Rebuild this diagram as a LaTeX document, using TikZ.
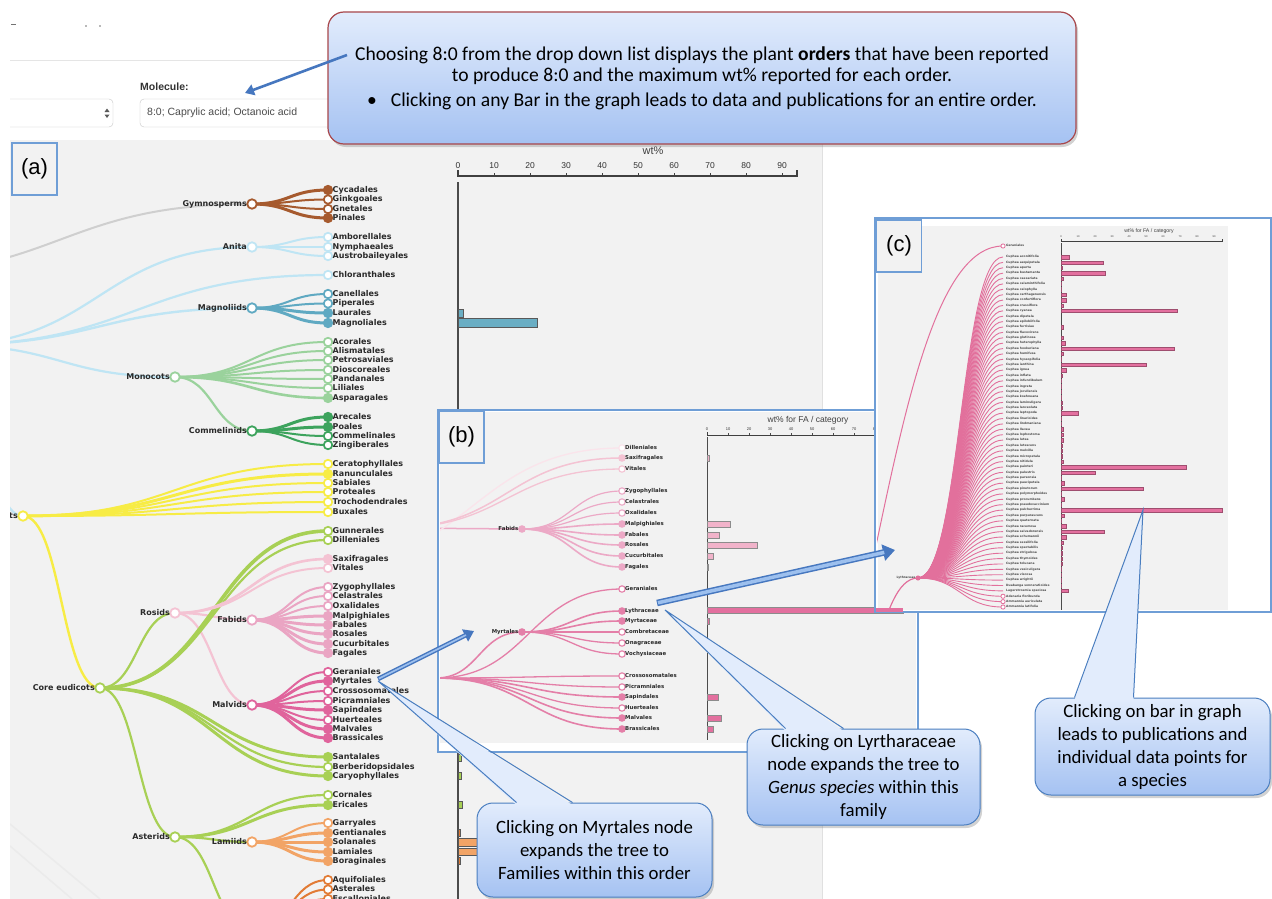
\documentclass[tikz,border=0pt]{standalone}
\usepackage{fontspec}
\setmainfont{Carlito}
\newfontfamily\dv{DejaVu Sans}
\newfontfamily\hv{Liberation Sans}
\usetikzlibrary{calc,arrows.meta,shadows}
\definecolor{panelgray}{HTML}{F2F2F2}
\definecolor{gymC}{HTML}{A65A2E}
\definecolor{anC}{HTML}{BFE5F4}
\definecolor{magC}{HTML}{5FA9C2}
\definecolor{monC}{HTML}{9AD29C}
\definecolor{comC}{HTML}{3DA35D}
\definecolor{yelC}{HTML}{F7EC45}
\definecolor{limC}{HTML}{A8D055}
\definecolor{rosC}{HTML}{F4C3D3}
\definecolor{fabC}{HTML}{EAA5C3}
\definecolor{malC}{HTML}{E0649C}
\definecolor{lamC}{HTML}{F2A466}
\definecolor{camC}{HTML}{E27B35}
\definecolor{rootgray}{HTML}{CFCFCF}
\definecolor{calTop}{HTML}{E2ECFC}
\definecolor{calBot}{HTML}{A5C2F2}
\definecolor{calBorder}{HTML}{4A7EC0}
\definecolor{calRed}{HTML}{A8474B}
\definecolor{arrowBlue}{HTML}{4677BF}
\definecolor{arrowLight}{HTML}{9DC0EE}
\definecolor{panelBlue}{HTML}{6F9ED6}
\definecolor{labTxt}{HTML}{2A2A2A}
\definecolor{magBar}{HTML}{6AAEC4}
\definecolor{bFabC}{HTML}{ECA9C6}
\definecolor{bMalC}{HTML}{E47FA8}
\definecolor{fabBar}{HTML}{F1B3CA}
\definecolor{malBar}{HTML}{E3709F}
\definecolor{cLine}{HTML}{E2709C}
\tikzset{
 lfA/.style={font=\dv\bfseries\fontsize{8}{8}\selectfont, text=labTxt, inner sep=0pt, text height=5.8pt, text depth=1.4pt},
 lfB/.style={font=\dv\bfseries\fontsize{5.4}{5.4}\selectfont, text=labTxt, inner sep=0pt, text height=3.9pt, text depth=1pt},
 lfC/.style={font=\dv\bfseries\fontsize{3}{3}\selectfont, text=labTxt!85, inner sep=0pt, text height=2.2pt, text depth=.6pt},
 dotA/.style={circle, minimum size=8.5pt, inner sep=0pt, line width=1.7pt},
 dotI/.style={circle, minimum size=9.5pt, inner sep=0pt, line width=1.8pt, fill=white},
 dotB/.style={circle, minimum size=6.4pt, inner sep=0pt, line width=1.1pt},
 dotC/.style={circle, minimum size=4.2pt, inner sep=0pt, line width=.8pt, fill=white},
 tickA/.style={font=\hv\fontsize{8.5}{8.5}\selectfont, text=black!80, inner sep=0pt},
 tickB/.style={font=\hv\fontsize{4}{4}\selectfont, text=black!80, inner sep=0pt},
 tickC/.style={font=\hv\fontsize{2.6}{2.6}\selectfont, text=black!80, inner sep=0pt},
 panelbox/.style={draw=panelBlue, line width=1.2pt},
 tag/.style={draw=panelBlue, line width=1.2pt, fill=panelgray, font=\hv\fontsize{22}{22}\selectfont, minimum width=45pt, minimum height=52pt, inner sep=0pt},
 barline/.style={draw=black!65, line width=.7pt},
 callout/.style={rectangle, rounded corners=16pt, draw=calBorder, line width=1pt, top color=calTop, bottom color=calBot, drop shadow={opacity=.35, shadow xshift=2pt, shadow yshift=-3pt}, align=center, font=\fontsize{18.8}{23}\selectfont, inner sep=2pt},
}
\newcommand\dg[3]{\draw[#3] let \p1=(#1), \p2=(#2) in (\p1) .. controls ({0.5*\x1+0.5*\x2},\y1) and ({0.5*\x1+0.5*\x2},\y2) .. (\p2);}
\newcommand\grpA[4]{%
 \foreach \nm/\yy/\fc/\ww in {#4}{%
  \coordinate (a\nm) at (#3,\yy);
  \dg{#1}{a\nm}{#2, line width=\ww pt}
  \node[dotA, draw=#2, fill=\fc] (a\nm-d) at (a\nm) {};
  \node[lfA, anchor=west] (a\nm-l) at ($(a\nm)+(4.5,0)$) {\nm};
 }}
\newcommand\grpB[3]{%
 \foreach \nm/\yy/\fc/\ww in {#3}{%
  \coordinate (b\nm) at (622,\yy);
  \dg{#1}{b\nm}{#2, line width=\ww pt}
  \node[dotB, draw=#2, fill=\fc] (b\nm-d) at (b\nm) {};
  \node[lfB, anchor=west] (b\nm-l) at ($(b\nm)+(3,0)$) {\nm};
 }}
\begin{document}
\begin{tikzpicture}[x=1pt,y=-1pt]
\useasboundingbox (0,0) rectangle (1272,899);
\fill[white] (0,0) rectangle (1272,899);
% ---------- header ----------
\draw[black!55, line width=1pt] (11,25) -- (16,25);
\fill[black!55] (86,26) circle (0.8) (100,26) circle (0.8);
\draw[black!10, line width=1pt] (10,61) -- (340,61);
\begin{scope}
\clip (10,90) rectangle (330,135);
\draw[black!22, fill=white, rounded corners=4pt] (0,99) rectangle (113,127);
\end{scope}
\fill[black!65] (104.5,112) -- (109.5,112) -- (107,108.5) -- cycle;
\fill[black!65] (104.5,114.5) -- (109.5,114.5) -- (107,118) -- cycle;
\node[font=\hv\bfseries\fontsize{10.5}{10.5}\selectfont, text=black!80, anchor=west, inner sep=0pt] (mol) at (140,87) {Molecule:};
\draw[black!22, fill=white, rounded corners=4pt] (140,99) rectangle (345,127);
\node[font=\hv\fontsize{10.5}{10.5}\selectfont, text=black!70, anchor=west, inner sep=0pt] (dd2) at (147,113) {8:0; Caprylic acid; Octanoic acid};
% ---------- panel (a) ----------
\fill[panelgray] (10,140) rectangle (822,899);
\draw[black!12] (822,140) -- (822,899);
\begin{scope}
\clip (10,140) rectangle (822,899);
\draw[black!8, line width=1.5pt] (10,824) -- (100,899);
\draw[black!8, line width=1.5pt] (10,846) -- (72,899);
\coordinate (seed) at (-131,275);
\coordinate (angio) at (-54,345);
\coordinate (gym) at (252,204);
\coordinate (anita) at (252,247);
\coordinate (magn) at (252,308);
\coordinate (mono) at (175,377);
\coordinate (comm) at (252,431);
\coordinate (eud) at (23,516);
\coordinate (core) at (100,688);
\coordinate (rosids) at (175,613);
\coordinate (fabids) at (252,620);
\coordinate (malvids) at (252,705);
\coordinate (asterids) at (175,837);
\coordinate (lamiids) at (252,842);
\coordinate (campan) at (252,930);
\dg{seed}{gym}{rootgray, line width=2pt}
\dg{angio}{anita}{anC, line width=2.2pt}
\dg{angio}{magn}{anC, line width=2.4pt}
\dg{angio}{mono}{anC, line width=2.2pt}
\dg{angio}{eud}{anC, line width=2.2pt}
\dg{mono}{comm}{monC, line width=2.2pt}
\dg{eud}{core}{yelC, line width=2.4pt}
\dg{core}{rosids}{limC, line width=2.2pt}
\dg{core}{asterids}{limC, line width=2.2pt}
\dg{rosids}{fabids}{rosC, line width=2.2pt}
\dg{rosids}{malvids}{rosC, line width=2.2pt}
\dg{asterids}{lamiids}{limC, line width=2.2pt}
\dg{asterids}{campan}{limC, line width=2.2pt}
\grpA{gym}{gymC}{328}{Cycadales/190/gymC/3, Ginkgoales/199.5/white/2, Gnetales/209/white/2, Pinales/218/gymC/3}
\grpA{anita}{anC}{328}{Amborellales/237/white/2, Nymphaeales/247/white/2, Austrobaileyales/256/white/2}
\grpA{angio}{anC}{328}{Chloranthales/275/white/2.2}
\grpA{magn}{magC}{328}{Canellales/294/white/2, Piperales/303.5/white/2, Laurales/313/magC/3, Magnoliales/323/magC/3}
\grpA{mono}{monC}{328}{Acorales/342/white/2, Alismatales/351/white/2, Petrosaviales/360/white/2, Dioscoreales/370/white/2, Pandanales/379/white/2, Liliales/388/white/2, Asparagales/398/monC/2.6}
\grpA{comm}{comC}{328}{Arecales/417/comC/3, Poales/427/comC/3, Commelinales/436/white/2, Zingiberales/445/white/2}
\grpA{eud}{yelC}{328}{Ceratophyllales/464/white/2, Ranunculales/474/yelC/3, Sabiales/483/white/2, Proteales/492/white/2, Trochodendrales/502/white/2, Buxales/512/white/2}
\grpA{core}{limC}{328}{Gunnerales/531/white/3.6, Dilleniales/540/white/2.2}
\grpA{rosids}{rosC}{328}{Saxifragales/559/rosC/2.6, Vitales/568/white/2}
\grpA{fabids}{fabC}{328}{Zygophyllales/587/white/2, Celastrales/596/white/2, Oxalidales/606/white/2, Malpighiales/616/fabC/3, Fabales/625/fabC/3, Rosales/634/fabC/3, Cucurbitales/644/fabC/3, Fagales/653/fabC/3}
\grpA{malvids}{malC}{328}{Geraniales/672/white/2, Myrtales/681/malC/3, Crossosomatales/691/white/2, Picramniales/701/white/2, Sapindales/710/malC/3, Huerteales/720/white/2, Malvales/729/malC/3, Brassicales/738/malC/3}
\grpA{core}{limC}{328}{Santalales/757/limC/3, Berberidopsidales/767/white/2.2, Caryophyllales/776/limC/3}
\grpA{asterids}{limC}{328}{Cornales/795/white/2.2, Ericales/805/limC/3}
\grpA{lamiids}{lamC}{328}{Garryales/823/white/2, Gentianales/833/lamC/3, Solanales/842/lamC/3, Lamiales/852/lamC/3, Boraginales/861/lamC/3}
\grpA{campan}{camC}{328}{Aquifoliales/880/white/2, Asterales/889.5/white/2, Escalloniales/899/white/2}
\foreach \nm/\cc/\tt in {gym/gymC/Gymnosperms, anita/anC/Anita, magn/magC/Magnoliids, mono/monC/Monocots, comm/comC/Commelinids, eud/yelC/Eudicots, core/limC/Core eudicots, rosids/rosC/Rosids, fabids/fabC/Fabids, malvids/malC/Malvids, asterids/limC/Asterids, lamiids/lamC/Lamiids}{%
 \node[dotI, draw=\cc] (\nm-d) at (\nm) {};
 \node[lfA, anchor=east] (\nm-l) at ($(\nm)+(-5,0)$) {\tt};
}
% bar chart (a)
\node[font=\hv\fontsize{11}{11}\selectfont, text=black!75, inner sep=0pt] (wtA) at (653,151) {wt\%};
\foreach \v in {0,10,...,90}{%
 \node[tickA] (tA\v) at ({458+3.6*\v},166) {\v};
 \draw[black!75, line width=.8pt] ({458+3.6*\v},176) -- ++(0,-3);
}
\draw[black!75, line width=1.2pt] (458,170) -- (458,176) -- (797,176) -- (797,170);
\draw[black!70, line width=1.4pt] (458,182) -- (458,899);
\filldraw[fill=magBar, barline] (458,309) rectangle (463,317);
\filldraw[fill=magBar, barline] (458,318.5) rectangle (537,327);
\filldraw[fill=limC, barline] (458,754) rectangle (461.5,761);
\filldraw[fill=limC, barline] (458,772) rectangle (461.5,779);
\filldraw[fill=limC, barline] (458,801) rectangle (462,808);
\filldraw[fill=camC, barline] (458,829) rectangle (460.5,836);
\filldraw[fill=lamC, barline] (458,838.5) rectangle (520,846);
\filldraw[fill=lamC, barline] (458,848) rectangle (520,855.5);
\filldraw[fill=camC, barline] (458,857.5) rectangle (460.5,864.5);
\end{scope}
\node[tag] (tagA) at (34.5,169) {(a)};
% ---------- panel (b) ----------
\fill[white] (438,410) rectangle (918,752);
\fill[panelgray] (440,412) rectangle (916,743);
\begin{scope}
\clip (440,412) rectangle (916,743);
\coordinate (bCore) at (322,565);
\coordinate (bRos) at (392,528);
\coordinate (bFab) at (522,529);
\coordinate (bMalv) at (436,678);
\coordinate (bMyr) at (522,632);
\dg{bRos}{bFab}{bFabC, line width=1.5pt}
\dg{bMalv}{bMyr}{bMalC, line width=1.5pt}
\grpB{bCore}{rosC!45}{Dilleniales/448/white/1.3}
\grpB{bRos}{rosC}{Saxifragales/458/rosC/1.5, Vitales/469/white/1.3}
\grpB{bFab}{bFabC}{Zygophyllales/491/white/1.2, Celastrales/502/white/1.2, Oxalidales/513/white/1.2, Malpighiales/524/bFabC/1.6, Fabales/535/bFabC/1.6, Rosales/545/bFabC/1.6, Cucurbitales/556/bFabC/1.6, Fagales/567/bFabC/1.6}
\grpB{bMalv}{bMalC}{Geraniales/589/white/1.3, Crossosomatales/676/white/1.3, Picramniales/687/white/1.3, Sapindales/697/bMalC/1.6, Huerteales/708/white/1.3, Malvales/718/bMalC/1.6, Brassicales/729/bMalC/1.6}
\grpB{bMyr}{bMalC}{Lythraceae/611/bMalC/1.6, Myrtaceae/621/bMalC/1.6, Combretaceae/632/white/1.3, Onagraceae/643/white/1.3, Vochysiaceae/654/white/1.3}
\node[dotB, draw=bFabC, fill=bFabC] (bFab-d) at (bFab) {};
\node[lfB, anchor=east] (bFab-l) at ($(bFab)+(-3.5,0)$) {Fabids};
\node[dotB, draw=bMalC, fill=bMalC] (bMyr-d) at (bMyr) {};
\node[lfB, anchor=east] (bMyr-l) at ($(bMyr)+(-3.5,0)$) {Myrtales};
% axis (b)
\node[font=\hv\fontsize{8.5}{8.5}\selectfont, text=black!75, inner sep=0pt] (wtB) at (808,420) {wt\% for FA / category};
\foreach \v in {0,10,...,80}{%
 \node[tickB] (tB\v) at ({707+2.1*\v},429) {\v};
 \draw[black!70, line width=.5pt] ({707+2.1*\v},435) -- ++(0,-2);
}
\draw[black!75, line width=.8pt] (707,432) -- (707,435) -- (916,435);
\draw[black!70, line width=.9pt] (707,437) -- (707,740);
\filldraw[fill=fabBar, draw=black!45, line width=.4pt] (707,455.5) rectangle (709,461);
\filldraw[fill=fabBar, draw=black!45, line width=.4pt] (707,521) rectangle (730,527);
\filldraw[fill=fabBar, draw=black!45, line width=.4pt] (707,532) rectangle (719,538);
\filldraw[fill=fabBar, draw=black!45, line width=.4pt] (707,542) rectangle (757,548);
\filldraw[fill=fabBar, draw=black!45, line width=.4pt] (707,553) rectangle (713,559);
\filldraw[fill=fabBar, draw=black!45, line width=.4pt] (707,564) rectangle (708,570);
\filldraw[fill=malBar, draw=black!45, line width=.4pt] (707,607.5) rectangle (903,613);
\filldraw[fill=malBar, draw=black!45, line width=.4pt] (707,618) rectangle (709,624);
\filldraw[fill=malBar, draw=black!45, line width=.4pt] (707,694) rectangle (718,700);
\filldraw[fill=malBar, draw=black!45, line width=.4pt] (707,715) rectangle (721,721);
\filldraw[fill=malBar, draw=black!45, line width=.4pt] (707,726) rectangle (713,732);
\end{scope}
\draw[panelbox] (438,410) rectangle (918,752);
\node[tag] (tagB) at (461.5,437) {(b)};
% ---------- panel (c) ----------
\fill[white] (875,218) rectangle (1271,612);
\fill[panelgray] (878,226) rectangle (1228,610);
\begin{scope}
\clip (877,219) rectangle (1270,611);
\coordinate (cMalv) at (748,850);
\coordinate (cMyr) at (833,727);
\coordinate (cLyth) at (918,578);
\coordinate (cGer) at (1003,246);
\dg{cMalv}{cGer}{cLine, line width=1pt}
\dg{cMalv}{cMyr}{cLine, line width=1pt}
\dg{cMyr}{cLyth}{cLine, line width=1.2pt}
\foreach \sp [count=\i from 0] in {Cuphea aconitifolia, Cuphea aequipetala, Cuphea aperta, Cuphea bustamanta, Cuphea caesariata, Cuphea calaminthifolia, Cuphea calophylla, Cuphea carthagenensis, Cuphea confertiflora, Cuphea crassiflora, Cuphea cyanea, Cuphea dipetala, Cuphea epilobiifolia, Cuphea ferrisiae, Cuphea flavovirens, Cuphea glutinosa, Cuphea heterophylla, Cuphea hookeriana, Cuphea humifusa, Cuphea hyssopifolia, Cuphea ianthina, Cuphea ignea, Cuphea inflata, Cuphea infundibulum, Cuphea ingrata, Cuphea jorullensis, Cuphea koehneana, Cuphea laminuligera, Cuphea lanceolata, Cuphea leptopoda, Cuphea linarioides, Cuphea lindmaniana, Cuphea llavea, Cuphea lophostoma, Cuphea lutea, Cuphea lutescens, Cuphea melvilla, Cuphea micropetala, Cuphea nitidula, Cuphea painteri, Cuphea palustris, Cuphea parsonsia, Cuphea paucipetala, Cuphea pinetorum, Cuphea polymorphoides, Cuphea procumbens, Cuphea pseudovaccinium, Cuphea pulcherrima, Cuphea purpurascens, Cuphea quaternata, Cuphea racemosa, Cuphea salvadorensis, Cuphea schumannii, Cuphea sessilifolia, Cuphea spectabilis, Cuphea strigulosa, Cuphea thymoides, Cuphea tolucana, Cuphea vesiculigera, Cuphea viscosa, Cuphea wrightii, Duabanga sonneratioides, Lagerstroemia speciosa, Adenaria floribunda, Ammannia auriculata, Ammannia latifolia}{%
 \pgfmathsetmacro\yy{257+\i*5.385}
 \coordinate (cs\i) at (1003,\yy);
 \dg{cLyth}{cs\i}{cLine, line width=.9pt}
 \node[lfC, anchor=west] (cs\i-l) at ($(cs\i)+(3,0)$) {\sp};
}
\foreach \i in {63,64,65}{\node[dotC, draw=cLine] (cs\i-d) at (cs\i) {};}
\node[dotC, draw=cLine] (cGer-d) at (cGer) {};
\node[lfC, anchor=west] (cGer-l) at ($(cGer)+(3,0)$) {Geraniales};
\node[dotC, draw=cLine, fill=cLine] (cLyth-d) at (cLyth) {};
\node[lfC, anchor=east] (cLyth-l) at ($(cLyth)+(-2.5,0)$) {Lythraceae};
% axis (c)
\node[font=\hv\fontsize{5.2}{5.2}\selectfont, text=black!75, inner sep=0pt] (wtC) at (1149,231.5) {wt\% for FA / category};
\foreach \v in {0,10,...,90}{%
 \node[tickC] (tC\v) at ({1061+1.7*\v},237) {\v};
}
\draw[black!75, line width=.6pt] (1061,239) -- (1061,241) -- (1222,241) -- (1222,239);
\draw[black!70, line width=.7pt] (1061,243) -- (1061,610);
\foreach \v [count=\i from 0] in {4.5,25,0.5,26,1.2,0.2,0.2,3,3,1.5,68.5,0,0,1.2,0,1,2.5,66.5,1.2,0.3,50,2.8,0.6,0.2,0.2,0.2,0.2,0.4,0.6,10,0.2,0.2,1.4,1,1,0.8,0.4,0.4,1.4,73.5,20,0.2,2,48.3,0.2,1.6,0.2,95,2,0.2,3,25.3,2.8,1,0.6,0.6,0.6,0.4,0.2,0.2,0.2,0.2,4}{%
 \ifdim\v pt>0pt
 \filldraw[fill=malBar, draw=malBar!70!black, line width=.3pt] (1061,{255.3+\i*5.385}) rectangle ({1061+1.7*\v},{258.7+\i*5.385});
 \fi
}
\end{scope}
\draw[panelbox] (875,218) rectangle (1271,612);
\node[tag] (tagC) at (899,246) {(c)};
\fill[malBar] (876,607.5) rectangle (903,611.5);
% ---------- callouts ----------
\node[callout, draw=calRed, line width=1.2pt, minimum width=748pt, minimum height=132pt, font=\fontsize{19.6}{21.5}\selectfont] (cTop) at (702,78) {Choosing 8:0 from the drop down list displays the plant \textbf{orders} that have been reported\\ to produce 8:0 and the maximum wt\% reported for each order.\\[3pt] \textbullet\hspace{14pt}Clicking on any Bar in the graph leads to data and publications for an entire order.};
\node[callout, minimum width=235pt, minimum height=94pt] (cMyrt) at (594.5,850) {Clicking on Myrtales node\\ expands the tree to\\ Families within this order};
\node[callout, minimum width=233pt, minimum height=96pt] (cLyt) at (863.5,777) {Clicking on Lyrtharaceae\\ node expands the tree to\\ \textit{Genus species} within this\\ family};
\node[callout, minimum width=235pt, minimum height=97pt] (cSpec) at (1152.5,746.5) {Clicking on bar in graph\\ leads to publications and\\ individual data points for\\ a species};
\coordinate (tipMyr) at (378,681);
\coordinate (tipLyt) at (665,610);
\coordinate (tipSpec) at (1143,510);
\fill[calTop] (tipMyr) -- ($(cMyrt.north west)+(40,2.5)$) -- ($(cMyrt.north west)+(96,2.5)$) -- cycle;
\draw[calBorder, line width=1pt] ($(cMyrt.north west)+(40,0)$) -- (tipMyr) -- ($(cMyrt.north west)+(96,0)$);
\fill[calTop] (tipLyt) -- ($(cLyt.north west)+(39,2.5)$) -- ($(cLyt.north west)+(97,2.5)$) -- cycle;
\draw[calBorder, line width=1pt] ($(cLyt.north west)+(39,0)$) -- (tipLyt) -- ($(cLyt.north west)+(97,0)$);
\fill[calTop] (tipSpec) -- ($(cSpec.north west)+(40,2.5)$) -- ($(cSpec.north west)+(99,2.5)$) -- cycle;
\draw[calBorder, line width=1pt] ($(cSpec.north west)+(40,0)$) -- (tipSpec) -- ($(cSpec.north west)+(99,0)$);
% ---------- arrows ----------
\coordinate (ar1s) at (347,55);
\coordinate (ar1t) at (245,93);
\coordinate (ar2s) at (378,679);
\coordinate (ar2t) at (474,631);
\coordinate (ar3s) at (657,603);
\coordinate (ar3t) at (895,550);
\draw[arrowBlue, line width=2.6pt, -{Triangle[length=9pt,width=11pt]}] (ar1s) -- (ar1t);
\draw[arrowBlue, line width=4.5pt, -{Triangle[length=10pt,width=13pt]}] (ar2s) -- (ar2t);
\draw[arrowLight, line width=1.6pt, shorten >=9pt, shorten <=1pt] (ar2s) -- (ar2t);
\draw[arrowBlue, line width=6.5pt, -{Triangle[length=12pt,width=16pt]}] (ar3s) -- (ar3t);
\draw[arrowLight, line width=3.5pt, shorten >=11pt, shorten <=1pt] (ar3s) -- (ar3t);
\end{tikzpicture}
\end{document}
